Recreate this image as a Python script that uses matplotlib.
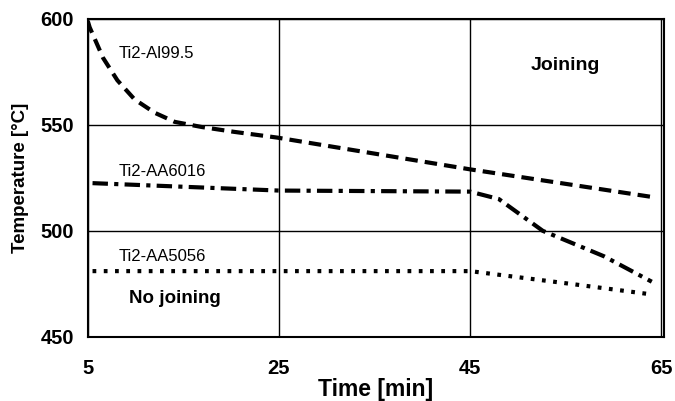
import matplotlib
matplotlib.use("Agg")
from matplotlib import pyplot as plt

plt.rcParams['font.family'] = ['Liberation Sans', 'DejaVu Sans']

t_al = [5, 5.2, 6.6, 8.1, 9.9, 12, 14.1, 16.9, 20.3, 24.8, 45, 64]
T_al = [599, 596, 581.6, 571, 562, 555.7, 551.4, 549, 546.7, 544, 529, 516]

t_6016 = [5.5, 25, 45, 48, 52.6, 59, 64]
T_6016 = [522.5, 519, 518.5, 515, 500, 488, 476]

t_5056 = [5.5, 25, 45, 55.5, 64]
T_5056 = [481, 481, 481, 475, 470]

xticks = [5, 25, 45, 65]
yticks = [450, 500, 550, 600]

fig = plt.figure(figsize=(6.75, 4.01), dpi=100)
ax = fig.add_axes([0.130, 0.160, 0.854, 0.793])

ax.plot(t_al, T_al, color='black', lw=3, linestyle=(0, (3, 1.7)))
ax.plot(t_6016, T_6016, color='black', lw=3, linestyle=(0, (3.7, 1.5, 1, 1.5)))
ax.plot(t_5056, T_5056, color='black', lw=3, linestyle=(0, (0.9, 1.8)))

ax.set_xlim(5, 65.3)
ax.set_ylim(450, 600)
ax.set_xticks(xticks)
ax.set_yticks(yticks)
ax.grid(True, color='black', lw=1)
ax.tick_params(axis='y', length=0, labelsize=14.5, pad=10)
ax.tick_params(axis='x', length=0, labelsize=14.5, pad=16)
for lab in ax.get_xticklabels() + ax.get_yticklabels():
    lab.set_fontweight('bold')
for s in ax.spines.values():
    s.set_linewidth(1.5)

ax.text(8.2, 583.5, "Ti2-Al99.5", fontsize=12, va='center')
ax.text(8.2, 528, "Ti2-AA6016", fontsize=12, va='center')
ax.text(8.2, 488, "Ti2-AA5056", fontsize=12, va='center')
ax.text(9.3, 468, "No joining", fontsize=13.5, fontweight='bold', va='center')
ax.text(55, 578, "Joining", fontsize=14, fontweight='bold', va='center', ha='center')

ax.set_xlabel("Time [min]", fontsize=16.5, fontweight='bold', labelpad=0)
ax.set_ylabel("Temperature [°C]", fontsize=13.5, fontweight='bold', labelpad=8)

fig.savefig("out.png", dpi=100)
